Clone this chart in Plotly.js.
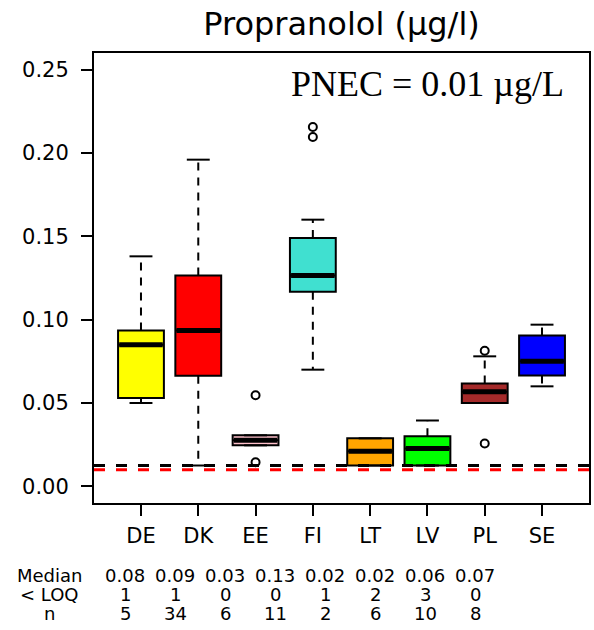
<!DOCTYPE html>
<html>
<head>
<meta charset="utf-8">
<script src="https://cdn.plot.ly/plotly-3.0.1.min.js"></script>
<style>
html,body{margin:0;padding:0;background:#fff;}
#chart{width:594px;height:630px;}
</style>
</head>
<body>
<div id="chart"></div>
<script>
// ---- data ----
const categories = ['DE','DK','EE','FI','LT','LV','PL','SE'];
const boxColors = ['#FFFF00','#FF0000','#FFC0CB','#40E0D0','#FFA500','#00FF00','#A52A2A','#0000FF'];
const q1 = [0.053, 0.0663, 0.0246, 0.1168, 0.0125, 0.0125, 0.050, 0.0665];
const medians = [0.085, 0.0935, 0.0276, 0.1265, 0.021, 0.0227, 0.0568, 0.075];
const q3 = [0.0935, 0.1265, 0.0306, 0.149, 0.0288, 0.030, 0.0617, 0.0905];
const whiskerLow = [0.050, 0.0125, 0.0246, 0.070, 0.0125, 0.0125, 0.050, 0.060];
const whiskerHigh = [0.138, 0.196, 0.0306, 0.160, 0.0288, 0.0395, 0.078, 0.097];
const outlierCat = ['EE','EE','FI','FI','PL','PL'];
const outlierVal = [0.0546, 0.0144, 0.2156, 0.2096, 0.0813, 0.0257];
const loqLine = 0.0125;
const pnecLine = 0.01;
const medianLabels = ['0.08','0.09','0.03','0.13','0.02','0.02','0.06','0.07'];
const belowLOQ = [1,1,0,0,1,2,3,0];
const nObs = [5,34,6,11,2,6,10,8];
const rowLabels = ['Median','< LOQ','n'];
const yTicks = [0, 0.05, 0.10, 0.15, 0.20, 0.25];

// ---- geometry / style ----
const W = 594, H = 630;
const M = {l:94, r:5, t:53, b:127};
const PW = W - M.l - M.r, PH = H - M.t - M.b;
const SANS = 'DejaVu Sans, Arial, sans-serif';
const boxW = 0.8, capW = 0.4;
const pos = categories.map((c,i)=>i+1);

const traces = [];
// boxes
categories.forEach((c,i)=>{
  traces.push({
    type:'box', x:[pos[i]], q1:[q1[i]], median:[medians[i]], q3:[q3[i]],
    lowerfence:[q1[i]], upperfence:[q3[i]],
    width:boxW, fillcolor:boxColors[i], line:{color:'#000', width:2},
    whiskerwidth:0, boxpoints:false, hoverinfo:'skip', showlegend:false
  });
});
// whiskers (dashed)
const wx=[], wy=[];
categories.forEach((c,i)=>{
  wx.push(pos[i],pos[i],null,pos[i],pos[i],null);
  wy.push(q3[i],whiskerHigh[i],null,q1[i],whiskerLow[i],null);
});
traces.push({type:'scatter',mode:'lines',x:wx,y:wy,line:{color:'#000',width:2,dash:'8px,7px'},hoverinfo:'skip',showlegend:false});
// caps
const cx=[], cy=[];
categories.forEach((c,i)=>{
  cx.push(pos[i]-capW/2,pos[i]+capW/2,null,pos[i]-capW/2,pos[i]+capW/2,null);
  cy.push(whiskerHigh[i],whiskerHigh[i],null,whiskerLow[i],whiskerLow[i],null);
});
traces.push({type:'scatter',mode:'lines',x:cx,y:cy,line:{color:'#000',width:2},hoverinfo:'skip',showlegend:false});
// medians (thick)
const mx=[], my=[];
categories.forEach((c,i)=>{
  mx.push(pos[i]-boxW/2+0.02,pos[i]+boxW/2-0.02,null);
  my.push(medians[i],medians[i],null);
});
traces.push({type:'scatter',mode:'lines',x:mx,y:my,line:{color:'#000',width:5},hoverinfo:'skip',showlegend:false});
// outliers
traces.push({type:'scatter',mode:'markers',
  x:outlierCat.map(c=>categories.indexOf(c)+1), y:outlierVal,
  marker:{symbol:'circle-open',size:8,color:'#000',line:{width:2,color:'#000'}},
  hoverinfo:'skip',showlegend:false});

// table annotations
const annotations = [];
const colX0 = 125, colDX = 50, labelX = 49;
const rowY = [575, 594, 613];
const toPX = px => (px - M.l)/PW;
const toPY = py => (H - M.b - py)/PH;
const rows = [medianLabels, belowLOQ.map(String), nObs.map(String)];
rows.forEach((vals,r)=>{
  annotations.push({xref:'paper',yref:'paper',x:toPX(labelX),y:toPY(rowY[r]),text:rowLabels[r],
    showarrow:false,xanchor:'center',yanchor:'middle',font:{family:SANS,size:18,color:'#000'}});
  vals.forEach((v,i)=>{
    annotations.push({xref:'paper',yref:'paper',x:toPX(colX0+colDX*i),y:toPY(rowY[r]),text:v,
      showarrow:false,xanchor:'center',yanchor:'middle',font:{family:SANS,size:18,color:'#000'}});
  });
});
// PNEC text
annotations.push({xref:'paper',yref:'paper',x:toPX(566),y:toPY(84),text:'PNEC = 0.01 µg/L',
  showarrow:false,xanchor:'right',yanchor:'middle',
  font:{family:'Liberation Serif, Times New Roman, serif',size:36,color:'#000'}});

const layout = {
  width:W, height:H, margin:M, paper_bgcolor:'#fff', plot_bgcolor:'#fff',
  showlegend:false, boxmode:'overlay',
  title:{text:'Propranolol (µg/l)', x:(M.l+PW/2)/W, xanchor:'center', xref:'container',
    y:1-24/H, yanchor:'middle', yref:'container', font:{family:SANS,size:32,color:'#000'}},
  xaxis:{range:[0.18,8.82], tickvals:pos, ticktext:categories, ticks:'outside', ticklen:11,
    tickwidth:2, tickcolor:'#000', showgrid:false, zeroline:false, showline:true, mirror:true,
    linecolor:'#000', linewidth:2, ticklabelstandoff:2, tickfont:{family:SANS,size:21,color:'#000'}},
  yaxis:{range:[-0.01,0.26], tickvals:yTicks, ticktext:yTicks.map(v=>v.toFixed(2)), ticks:'outside', ticklen:11,
    tickwidth:2, tickcolor:'#000', showgrid:false, zeroline:false, showline:true, mirror:true,
    linecolor:'#000', linewidth:2, ticklabelstandoff:8, tickfont:{family:SANS,size:21,color:'#000'}},
  shapes:[
    {type:'line',xref:'paper',x0:0,x1:1,yref:'y',y0:loqLine,y1:loqLine,line:{color:'#000',width:3,dash:'11px,11px'}},
    {type:'line',xref:'paper',x0:0,x1:1,yref:'y',y0:pnecLine,y1:pnecLine,line:{color:'#FF0000',width:3,dash:'11px,11px'}}
  ],
  annotations:annotations
};
Plotly.newPlot('chart', traces, layout, {displayModeBar:false, staticPlot:true});
</script>
</body>
</html>
